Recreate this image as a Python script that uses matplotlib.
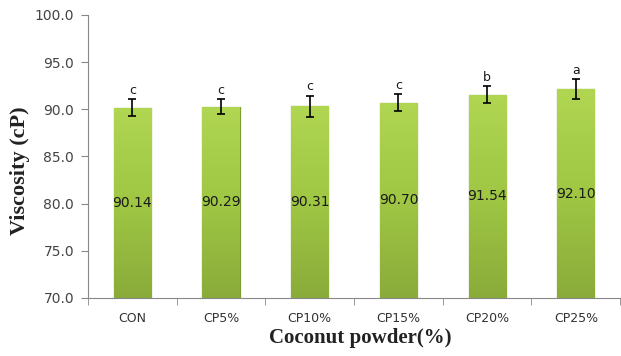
import matplotlib
matplotlib.use('Agg')
import matplotlib.pyplot as plt
import numpy as np

groups = ['CON', 'CP5%', 'CP10%', 'CP15%', 'CP20%', 'CP25%']
viscosity = [90.14, 90.29, 90.31, 90.70, 91.54, 92.10]
errors = [0.90, 0.75, 1.15, 0.88, 0.88, 1.06]
letters = ['c', 'c', 'c', 'c', 'b', 'a']

fig = plt.figure(figsize=(6.21, 3.56), dpi=100)
ax = fig.add_axes([0.1417, 0.163, 0.857, 0.795])

x = np.arange(len(groups))
bars = ax.bar(x, [v - 70 for v in viscosity], bottom=70, width=0.42,
              color='#9cc541', edgecolor='#7f9f36', linewidth=0.9, zorder=2)

# vertical green gradient on each bar
grad = np.linspace(0, 1, 256).reshape(-1, 1)
cmap = matplotlib.colors.LinearSegmentedColormap.from_list('g', ['#8aab3a', '#9fc744', '#b0d652'])
for b in bars:
    bx, by = b.get_x(), b.get_y()
    w, h = b.get_width(), b.get_height()
    im = ax.imshow(grad, cmap=cmap, aspect='auto', origin='lower',
                   extent=[bx, bx + w, by, by + h], zorder=2.5)
    im.set_clip_path(b)

ax.errorbar(x, viscosity, yerr=errors, fmt='none', ecolor='black',
            elinewidth=1.2, capsize=3, capthick=1.2, zorder=3)

for i, v in enumerate(viscosity):
    ax.text(x[i], (70 + v) / 2, f'{v:.2f}', ha='center', va='center',
            fontsize=10, color='#1a1a1a', zorder=4)
    ax.text(x[i], v + errors[i] + 0.25, letters[i], ha='center', va='bottom',
            fontsize=9, color='#1a1a1a', zorder=4)

ax.set_xlim(-0.5, len(groups) - 0.5)
ax.set_ylim(70, 100)
ax.set_yticks(np.arange(70, 100.1, 5))
ax.set_yticklabels([f'{t:.1f}' for t in np.arange(70, 100.1, 5)])
ax.set_xticks(x)
ax.set_xticklabels(groups)
ax.set_xticks(np.arange(-0.5, len(groups), 1), minor=True)
ax.tick_params(axis='x', which='major', length=0, pad=10, labelsize=9, labelcolor='#333333')
ax.tick_params(axis='x', which='minor', length=5, color='#888888', direction='out')
ax.tick_params(axis='y', length=5, color='#888888', labelsize=10, labelcolor='#444444', pad=5)

for s in ['top', 'right']:
    ax.spines[s].set_visible(False)
ax.spines['left'].set_color('#888888')
ax.spines['bottom'].set_color('#888888')

fig.text(20 / 621, 1 - 171 / 356, 'Viscosity (cP)', family='Liberation Serif',
         fontweight='bold', fontsize=16, color='#222222', rotation=90,
         ha='center', va='center')
fig.text(360 / 621, 1 - 338 / 356, 'Coconut powder(%)', family='Liberation Serif',
         fontweight='bold', fontsize=15, color='#222222', ha='center', va='center')

fig.savefig('out.png', dpi=100)
